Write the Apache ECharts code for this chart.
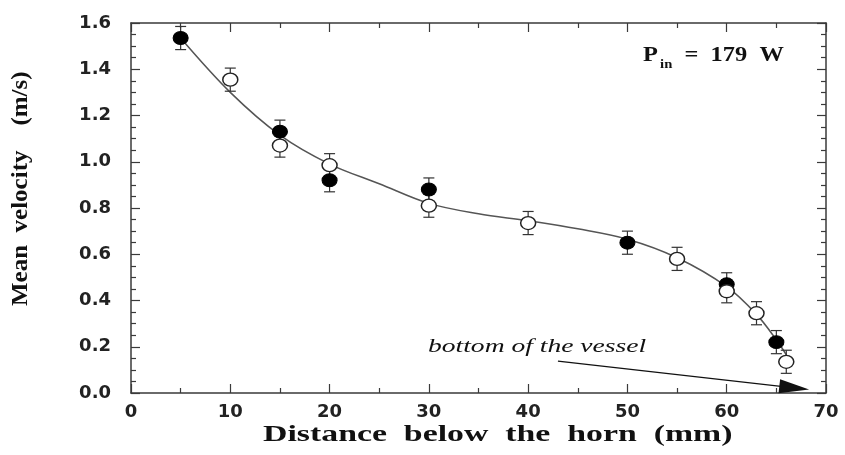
<!DOCTYPE html>
<html>
<head>
<meta charset="utf-8">
<script src="https://cdn.jsdelivr.net/npm/echarts@6/dist/echarts.min.js"></script>
<style>
  html, body { margin: 0; padding: 0; background: #fff; }
  #main { width: 845px; height: 455px; }
</style>
</head>
<body>
<div id="main"></div>
<script>
// measured points, filled circles
const filledX = [5, 15, 20, 30, 50, 60, 65];
const filledY = [1.535, 1.13, 0.92, 0.88, 0.65, 0.47, 0.22];
const filledErr = [0.05, 0.05, 0.05, 0.05, 0.05, 0.05, 0.05];
// measured points, open circles
const openX = [10, 15, 20, 30, 40, 55, 60, 63, 66];
const openY = [1.355, 1.07, 0.985, 0.81, 0.735, 0.58, 0.44, 0.345, 0.135];
const openErr = [0.05, 0.05, 0.05, 0.05, 0.05, 0.05, 0.05, 0.05, 0.05];
// fitted curve
const fitX = [5, 10, 15, 20, 25, 30, 35, 40, 45, 50, 55, 60, 63, 65, 66];
const fitY = [1.535, 1.30, 1.115, 0.99, 0.905, 0.82, 0.775, 0.745, 0.71, 0.665, 0.585, 0.46, 0.34, 0.23, 0.165];
// arrow "bottom of the vessel"
const arrowFrom = [43, 0.138];
const arrowTo = [66.8, 0.022];

const zip = (xs, ys, es) => xs.map((x, i) => es ? [x, ys[i], es[i]] : [x, ys[i]]);

const serif = '"Liberation Serif", "DejaVu Serif", serif';
const sans = '"DejaVu Sans", "Liberation Sans", sans-serif';
const axisCol = '#3a3a3a';

function errRender(params, api) {
  const x = api.value(0), y = api.value(1), e = api.value(2);
  const top = api.coord([x, y + e]);
  const bot = api.coord([x, y - e]);
  const hw = 5.5;
  const st = { stroke: '#333', lineWidth: 1.2 };
  return {
    type: 'group',
    children: [
      { type: 'line', shape: { x1: top[0], y1: top[1], x2: bot[0], y2: bot[1] }, style: st },
      { type: 'line', shape: { x1: top[0] - hw, y1: top[1], x2: top[0] + hw, y2: top[1] }, style: st },
      { type: 'line', shape: { x1: bot[0] - hw, y1: bot[1], x2: bot[0] + hw, y2: bot[1] }, style: st }
    ]
  };
}

const xCommon = {
  type: 'value', min: 0, max: 70, interval: 10,
  axisLine: { onZero: false, lineStyle: { color: axisCol, width: 1.5 } },
  axisTick: { inside: true, length: 9, lineStyle: { color: axisCol, width: 1.2 } },
  minorTick: { show: true, splitNumber: 2, length: 5, lineStyle: { color: axisCol, width: 1.2 } },
  splitLine: { show: false }
};
const yCommon = {
  type: 'value', min: 0, max: 1.6, interval: 0.2,
  axisLine: { onZero: false, lineStyle: { color: axisCol, width: 1.5 } },
  axisTick: { inside: true, length: 9, lineStyle: { color: axisCol, width: 1.2 } },
  minorTick: { show: true, splitNumber: 4, length: 5, lineStyle: { color: axisCol, width: 1.2 } },
  splitLine: { show: false }
};

const chart = echarts.init(document.getElementById('main'), null, { renderer: 'canvas' });
chart.setOption({
  animation: false,
  backgroundColor: '#fff',
  grid: { left: 131, right: 19, top: 23, bottom: 62 },
  xAxis: [
    Object.assign({}, xCommon, {
      position: 'bottom',
      axisLabel: { margin: 10, fontFamily: sans, fontWeight: 'bold', fontSize: 18, color: '#222' }
    }),
    Object.assign({}, xCommon, { position: 'top', axisLabel: { show: false } })
  ],
  yAxis: [
    Object.assign({}, yCommon, {
      position: 'left',
      axisLabel: { margin: 20, fontFamily: sans, fontWeight: 'bold', fontSize: 18, color: '#222',
        formatter: v => v.toFixed(1) }
    }),
    Object.assign({}, yCommon, { position: 'right', axisLabel: { show: false } })
  ],
  series: [
    {
      type: 'line', data: zip(fitX, fitY), smooth: 0.35, symbol: 'none',
      lineStyle: { color: '#555', width: 1.5 }, z: 2,
      markLine: {
        silent: true, animation: false,
        symbol: ['none', 'triangle'], symbolSize: [14, 30],
        lineStyle: { color: '#111', width: 1.3, type: 'solid' },
        itemStyle: { color: '#000' },
        label: { show: false },
        data: [[{ coord: arrowFrom }, { coord: arrowTo }]]
      }
    },
    { type: 'custom', renderItem: errRender, data: zip(filledX, filledY, filledErr), encode: { x: 0, y: 1 }, z: 3 },
    { type: 'custom', renderItem: errRender, data: zip(openX, openY, openErr), encode: { x: 0, y: 1 }, z: 3 },
    {
      type: 'scatter', data: zip(filledX, filledY), symbol: 'circle', symbolSize: [15, 13],
      itemStyle: { color: '#000', borderColor: '#000', borderWidth: 1, opacity: 1 }, z: 4
    },
    {
      type: 'scatter', data: zip(openX, openY), symbol: 'circle', symbolSize: [15, 13],
      itemStyle: { color: '#fff', borderColor: '#222', borderWidth: 1.4, opacity: 1 }, z: 4
    }
  ],
  graphic: [
    { type: 'text', x: 263, y: 424, scaleX: 1.47,
      style: { text: 'Distance  below  the  horn  (mm)', font: 'bold 23px ' + serif, fill: '#111' } },
    { type: 'text', x: 9, y: 306, rotation: Math.PI / 2, scaleX: 1.19, scaleY: 1.1,
      style: { text: 'Mean  velocity    (m/s)', font: 'bold 21px ' + serif, fill: '#111',
        textAlign: 'left', textVerticalAlign: 'top' } },
    { type: 'group', x: 643, y: 46, scaleX: 1.22,
      children: [
        { type: 'text', x: 0, y: 0, style: { text: 'P', font: 'bold 20px ' + serif, fill: '#111' } },
        { type: 'text', x: 14, y: 13, style: { text: 'in', font: 'bold 12px ' + serif, fill: '#111' } },
        { type: 'text', x: 34, y: 0, style: { text: '=  179  W', font: 'bold 20px ' + serif, fill: '#111' } }
      ] },
    { type: 'text', x: 428, y: 337, scaleX: 1.45,
      style: { text: 'bottom of the vessel', font: 'italic 19px ' + serif, fill: '#111' } }
  ]
});
</script>
</body>
</html>
